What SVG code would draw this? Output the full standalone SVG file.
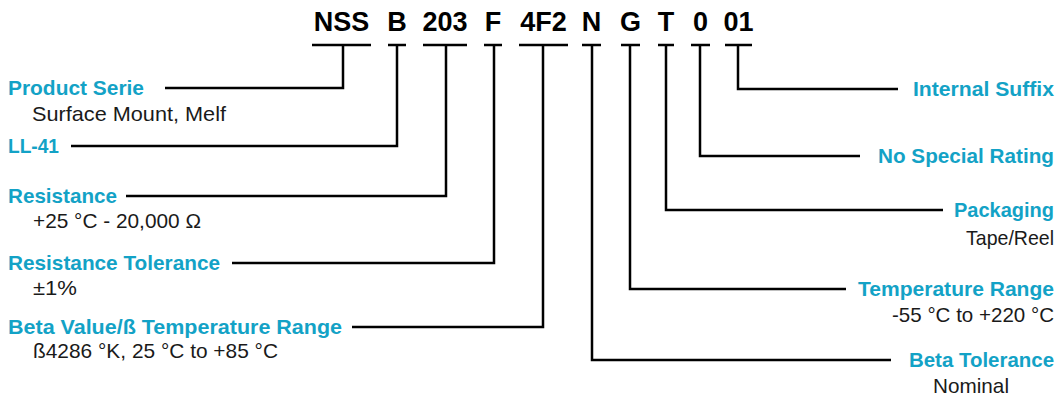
<svg xmlns="http://www.w3.org/2000/svg" width="1058" height="398" viewBox="0 0 1058 398">
<style>
.code{font-family:"Liberation Sans",Arial,sans-serif;font-weight:bold;font-size:27px;fill:#000;text-anchor:middle}
.h{font-family:"Liberation Sans",Arial,sans-serif;font-weight:bold;font-size:21px;fill:#13a2c6}
.b{font-family:"Liberation Sans",Arial,sans-serif;font-size:21px;fill:#1a1a1a}
.r{text-anchor:end}
.c{fill:none;stroke:#000;stroke-width:2.5;stroke-linejoin:miter;stroke-linecap:butt}
</style>
<rect width="1058" height="398" fill="#fff"/>
<g id="codes">
<text class="code" x="341.5" y="31">NSS</text>
<text class="code" x="397" y="31">B</text>
<text class="code" x="445" y="31">203</text>
<text class="code" x="493" y="31">F</text>
<text class="code" x="543.5" y="31">4F2</text>
<text class="code" x="591.5" y="31">N</text>
<text class="code" x="630.5" y="31">G</text>
<text class="code" x="666" y="31">T</text>
<text class="code" x="700.5" y="31">0</text>
<text class="code" x="738.5" y="31">01</text>
</g>
<g id="connectors">
<path class="c" d="M312 45H371M343 45V88H165"/>
<path class="c" d="M388 45H406M397 45V146H71"/>
<path class="c" d="M423 45H467M446 45V196H126"/>
<path class="c" d="M484 45H502M494 45V263H232"/>
<path class="c" d="M519 45H568M543 45V327H352"/>
<path class="c" d="M582 45H601M592 45V360H891"/>
<path class="c" d="M621 45H640M630 45V289H846"/>
<path class="c" d="M658 45H674M666 45V210H943"/>
<path class="c" d="M691 45H710M700 45V156H860"/>
<path class="c" d="M725 45H752M738 45V89H898"/>
</g>
<g id="product-serie">
<text class="h" x="8" y="95" textLength="136" lengthAdjust="spacingAndGlyphs">Product Serie</text>
<text class="b" x="32" y="121" textLength="194" lengthAdjust="spacingAndGlyphs">Surface Mount, Melf</text>
</g>
<g id="ll41">
<text class="h" x="8" y="153" textLength="51" lengthAdjust="spacingAndGlyphs">LL-41</text>
</g>
<g id="resistance">
<text class="h" x="8" y="203" textLength="109" lengthAdjust="spacingAndGlyphs">Resistance</text>
<text class="b" x="33" y="228" textLength="168" lengthAdjust="spacingAndGlyphs">+25 °C - 20,000 Ω</text>
</g>
<g id="resistance-tolerance">
<text class="h" x="8" y="270" textLength="212" lengthAdjust="spacingAndGlyphs">Resistance Tolerance</text>
<text class="b" x="33" y="295" textLength="44" lengthAdjust="spacingAndGlyphs">±1%</text>
</g>
<g id="beta-value">
<text class="h" x="8" y="334" textLength="334" lengthAdjust="spacingAndGlyphs">Beta Value/ß Temperature Range</text>
<text class="b" x="33" y="358" textLength="245" lengthAdjust="spacingAndGlyphs">ß4286 °K, 25 °C to +85 °C</text>
</g>
<g id="internal-suffix">
<text class="h r" x="1054" y="96" textLength="141" lengthAdjust="spacingAndGlyphs">Internal Suffix</text>
</g>
<g id="no-special-rating">
<text class="h r" x="1054" y="163" textLength="176" lengthAdjust="spacingAndGlyphs">No Special Rating</text>
</g>
<g id="packaging">
<text class="h r" x="1054" y="217" textLength="100" lengthAdjust="spacingAndGlyphs">Packaging</text>
<text class="b r" x="1054" y="245" textLength="88" lengthAdjust="spacingAndGlyphs">Tape/Reel</text>
</g>
<g id="temperature-range">
<text class="h r" x="1054" y="296" textLength="196" lengthAdjust="spacingAndGlyphs">Temperature Range</text>
<text class="b r" x="1054" y="322" textLength="162" lengthAdjust="spacingAndGlyphs">-55 °C to +220 °C</text>
</g>
<g id="beta-tolerance">
<text class="h r" x="1054" y="367" textLength="145" lengthAdjust="spacingAndGlyphs">Beta Tolerance</text>
<text class="b" x="933" y="393" textLength="76" lengthAdjust="spacingAndGlyphs">Nominal</text>
</g>
</svg>
